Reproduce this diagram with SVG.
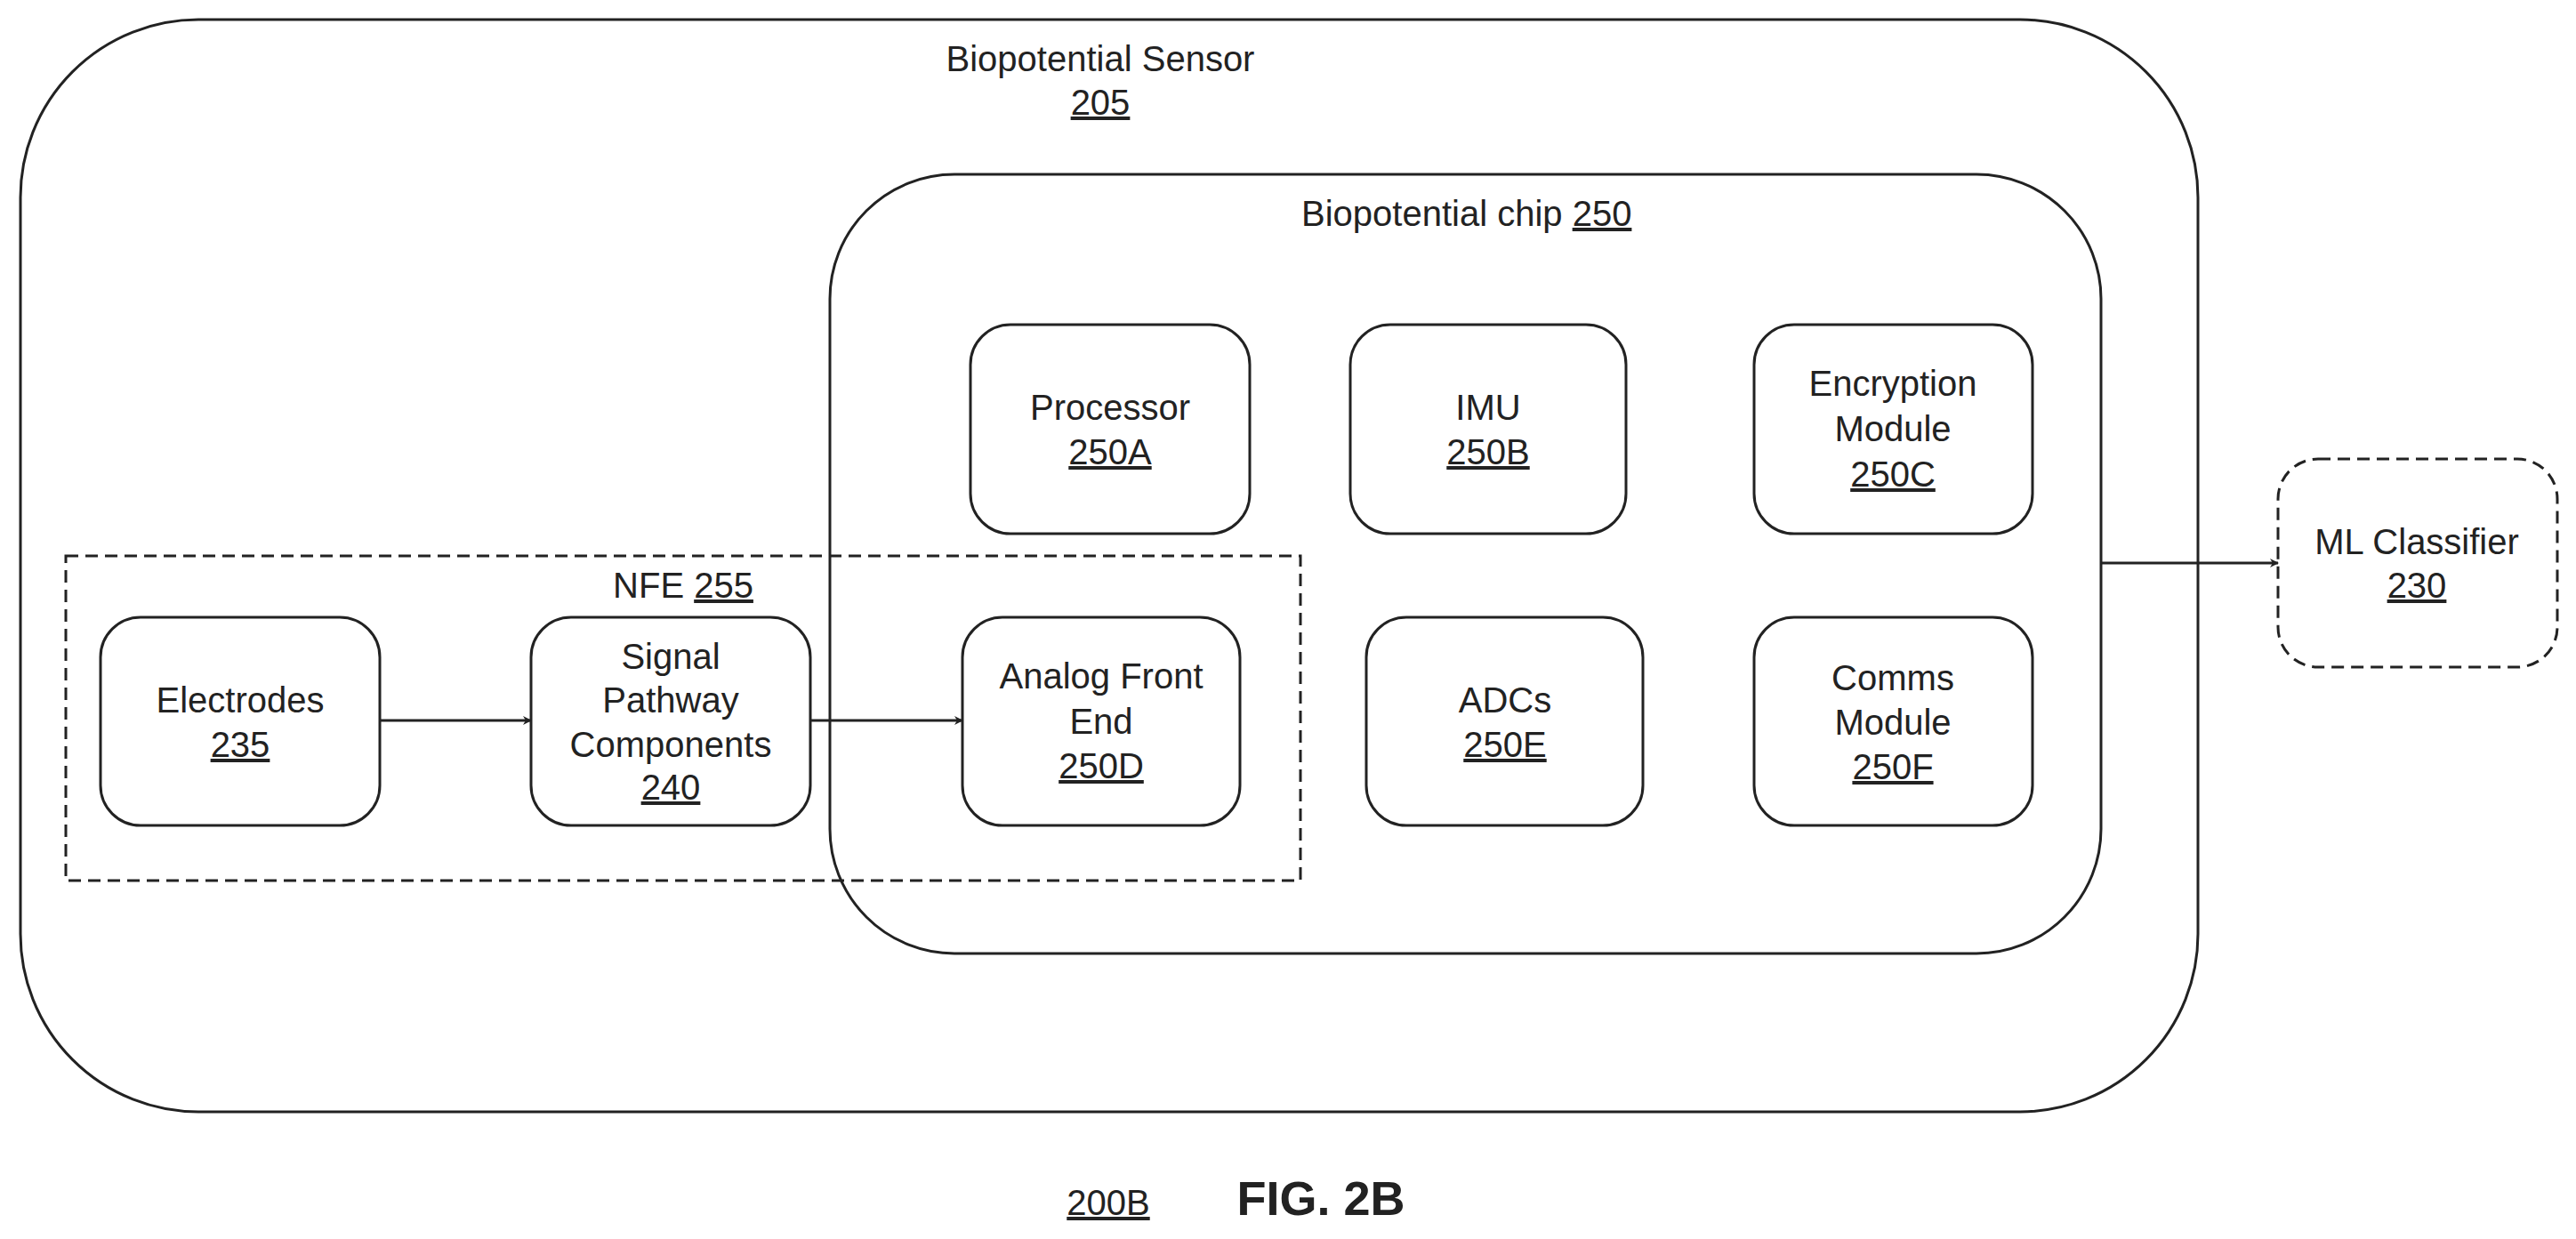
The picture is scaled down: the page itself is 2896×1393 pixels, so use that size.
<svg xmlns="http://www.w3.org/2000/svg" width="2896" height="1393" viewBox="0 0 2896 1393">
<style>
text{font-family:"Liberation Sans",Arial,sans-serif;font-size:40px;fill:#222;text-anchor:middle}
.u{text-decoration:underline}
.b{fill:none;stroke:#222;stroke-width:3}
.d{fill:none;stroke:#222;stroke-width:3;stroke-dasharray:14 8}
.c{stroke:#222;stroke-width:3;fill:none}
</style>
<defs><marker id="a" markerWidth="10" markerHeight="10" refX="9" refY="5" orient="auto" markerUnits="userSpaceOnUse"><path d="M0,0 L10,5 L0,10 L3,5 z" fill="#222"/></marker></defs>
<rect width="2896" height="1393" fill="#fff"/>
<g id="sensor"><rect class="b" x="23" y="22" width="2448" height="1228" rx="200"/><text x="1237" y="80">Biopotential Sensor</text><text class="u" x="1237" y="129">205</text></g>
<g id="chip"><rect class="b" x="933" y="196" width="1429" height="876" rx="140"/><text x="1463" y="254" style="text-anchor:start">Biopotential chip <tspan class="u">250</tspan></text></g>
<g id="nfe"><rect class="d" x="74" y="625" width="1388" height="365"/><text x="768" y="672">NFE <tspan class="u">255</tspan></text></g>
<g id="proc"><rect class="b" x="1091" y="365" width="314" height="235" rx="45"/><text x="1248" y="472">Processor</text><text class="u" x="1248" y="522">250A</text></g>
<g id="imu"><rect class="b" x="1518" y="365" width="310" height="235" rx="45"/><text x="1673" y="472">IMU</text><text class="u" x="1673" y="522">250B</text></g>
<g id="enc"><rect class="b" x="1972" y="365" width="313" height="235" rx="45"/><text x="2128" y="445">Encryption</text><text x="2128" y="496">Module</text><text class="u" x="2128" y="547">250C</text></g>
<g id="elec"><rect class="b" x="113" y="694" width="314" height="234" rx="45"/><text x="270" y="801">Electrodes</text><text class="u" x="270" y="851">235</text></g>
<g id="sig"><rect class="b" x="597" y="694" width="314" height="234" rx="45"/><text x="754" y="752">Signal</text><text x="754" y="801">Pathway</text><text x="754" y="851">Components</text><text class="u" x="754" y="899">240</text></g>
<g id="afe"><rect class="b" x="1082" y="694" width="312" height="234" rx="45"/><text x="1238" y="774">Analog Front</text><text x="1238" y="825">End</text><text class="u" x="1238" y="875">250D</text></g>
<g id="adc"><rect class="b" x="1536" y="694" width="311" height="234" rx="45"/><text x="1692" y="801">ADCs</text><text class="u" x="1692" y="851">250E</text></g>
<g id="comms"><rect class="b" x="1972" y="694" width="313" height="234" rx="45"/><text x="2128" y="776">Comms</text><text x="2128" y="826">Module</text><text class="u" x="2128" y="876">250F</text></g>
<g id="ml"><rect class="d" x="2561" y="516" width="314" height="234" rx="45"/><text x="2717" y="623">ML Classifier</text><text class="u" x="2717" y="672">230</text></g>
<g id="connectors">
<line class="c" x1="427" y1="810" x2="597" y2="810" marker-end="url(#a)"/>
<line class="c" x1="911" y1="810" x2="1082" y2="810" marker-end="url(#a)"/>
<line class="c" x1="2362" y1="633" x2="2561" y2="633" marker-end="url(#a)"/>
</g>
<text class="u" x="1246" y="1366">200B</text>
<text x="1485" y="1366" style="font-weight:bold;font-size:54px">FIG. 2B</text>
</svg>
